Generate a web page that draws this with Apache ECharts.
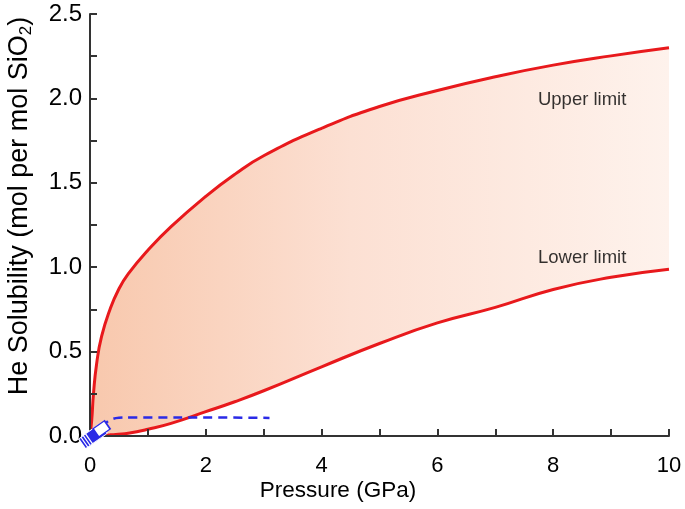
<!DOCTYPE html>
<html>
<head>
<meta charset="utf-8">
<script src="https://cdn.jsdelivr.net/npm/echarts@6/dist/echarts.min.js"></script>
<style>
html,body{margin:0;padding:0;background:#fff;}
#chart{width:685px;height:509px;}
</style>
</head>
<body>
<div id="chart"></div>
<script>
// Pressure (GPa) sample points shared by both limit curves
var pressure = [0, 0.03, 0.06, 0.115, 0.2, 0.345, 0.49, 0.66, 1.0, 1.4, 2.0, 2.5, 3.0, 4.0, 5.0, 6.0, 7.0, 8.0, 9.0, 10.0];
// He solubility (mol per mol SiO2)
var upperLimit = [0, 0.095, 0.25, 0.43, 0.59, 0.75, 0.865, 0.96, 1.10, 1.24, 1.42, 1.55, 1.66, 1.823, 1.952, 2.047, 2.128, 2.197, 2.252, 2.30];
var lowerLimit = [0, 0, 0.001, 0.002, 0.004, 0.007, 0.01, 0.016, 0.04, 0.075, 0.144, 0.203, 0.268, 0.41, 0.548, 0.67, 0.762, 0.868, 0.94, 0.988];

// Blue dashed curve
var dashPressure = [0.21, 0.3, 0.4, 0.5, 0.7, 1.0, 2.0, 3.1];
var dashSolubility = [0.047, 0.085, 0.102, 0.108, 0.11, 0.11, 0.11, 0.107];

// Blue data markers near origin
var filledPressure = [-0.01, 0.03, 0.07, 0.11];
var filledSolubility = [-0.016, -0.006, 0.004, 0.014];
var openPressure = [0.2];
var openSolubility = [0.042];

// Axis ticks
var xTicks = [0, 2, 4, 6, 8, 10];
var yTicks = [0.0, 0.5, 1.0, 1.5, 2.0, 2.5];

// Curve annotations
var annotationText = ['Upper limit', 'Lower limit'];
var annotationPressure = [8.5, 8.5];
var annotationSolubility = [1.99, 1.055];

function zip(xs, ys) { return xs.map(function (x, i) { return [x, ys[i]]; }); }

var chart = echarts.init(document.getElementById('chart'));
var fontFam = '"Liberation Sans", Arial, Helvetica, sans-serif';
var axisColor = '#333';
var red = '#e8191c';
var blue = '#2a2ae6';

var option = {
  animation: false,
  backgroundColor: '#fff',
  grid: { left: 90, right: 16, top: 14, bottom: 73 },
  xAxis: {
    type: 'value', min: xTicks[0], max: xTicks[xTicks.length - 1], interval: 2,
    axisLine: { lineStyle: { color: axisColor, width: 2 } },
    axisTick: { inside: true, length: 7, lineStyle: { color: axisColor, width: 2 } },
    minorTick: { show: true, splitNumber: 2, length: 7, lineStyle: { color: axisColor, width: 2 } },
    splitLine: { show: false },
    axisLabel: { color: '#000', fontSize: 22, fontFamily: fontFam, margin: 19 },
    z: 1
  },
  yAxis: {
    type: 'value', min: yTicks[0], max: yTicks[yTicks.length - 1], interval: 0.5,
    axisLine: { lineStyle: { color: axisColor, width: 2 } },
    axisTick: { inside: true, length: 7, lineStyle: { color: axisColor, width: 2 } },
    minorTick: { show: true, splitNumber: 2, length: 7, lineStyle: { color: axisColor, width: 2 } },
    splitLine: { show: false },
    axisLabel: { color: '#000', fontSize: 24, fontFamily: fontFam, margin: 8,
      formatter: function (v) { return v.toFixed(1); } },
    z: 1
  },
  graphic: [
    {
      type: 'text', x: 20, y: 206, rotation: Math.PI / 2,
      style: {
        text: 'He Solubility (mol per mol SiO{s|2})',
        fontSize: 27, fontFamily: fontFam, fill: '#000',
        align: 'center', verticalAlign: 'middle',
        rich: { s: { fontSize: 17, fontFamily: fontFam, fill: '#000', padding: [13, 0, 0, 0] } }
      }
    },
    {
      type: 'text', x: 338, y: 491,
      style: { text: 'Pressure (GPa)', fontSize: 22.5, fontFamily: fontFam, fill: '#000',
        align: 'center', verticalAlign: 'middle' }
    }
  ],
  series: [
    {
      name: 'upper', type: 'line', data: zip(pressure, upperLimit),
      smooth: true, showSymbol: false, symbol: 'none',
      lineStyle: { color: red, width: 3 },
      areaStyle: {
        opacity: 1, origin: 'start',
        color: new echarts.graphic.LinearGradient(0, 0, 1, 0, [
          { offset: 0, color: '#f8c8ad' },
          { offset: 0.45, color: '#fce0d3' },
          { offset: 1, color: '#fef2ec' }
        ])
      }, z: 0
    },
    {
      name: 'lower', type: 'line', data: zip(pressure, lowerLimit),
      smooth: true, showSymbol: false, symbol: 'none',
      lineStyle: { color: red, width: 3 },
      areaStyle: { opacity: 1, origin: 'start', color: '#ffffff' }, z: 0, zlevel: 0
    },
    {
      name: 'dashed', type: 'line', data: zip(dashPressure, dashSolubility),
      smooth: 0.4, showSymbol: false, symbol: 'none',
      lineStyle: { color: blue, width: 2.5, type: [9, 6] }, z: 4
    },
    {
      name: 'filled', type: 'scatter', data: zip(filledPressure, filledSolubility),
      symbol: 'rect', symbolSize: [18, 12], symbolRotate: 35, clip: false,
      itemStyle: { color: blue, borderColor: '#fff', borderWidth: 1, opacity: 1 }, z: 5
    },
    {
      name: 'open', type: 'scatter', data: zip(openPressure, openSolubility),
      symbol: 'rect', symbolSize: [14, 10], symbolRotate: 35, clip: false,
      itemStyle: { color: '#fff', borderColor: blue, borderWidth: 1.5, opacity: 1 }, z: 6
    },
    {
      name: 'annotations', type: 'scatter', symbolSize: 0, silent: true,
      data: annotationText.map(function (t, i) {
        return { name: t, value: [annotationPressure[i], annotationSolubility[i]] };
      }),
      label: { show: true, position: 'inside', formatter: '{b}', color: '#000',
        fontSize: 18.5, fontFamily: fontFam }, z: 7
    }
  ]
};
chart.setOption(option);
</script>
</body>
</html>
